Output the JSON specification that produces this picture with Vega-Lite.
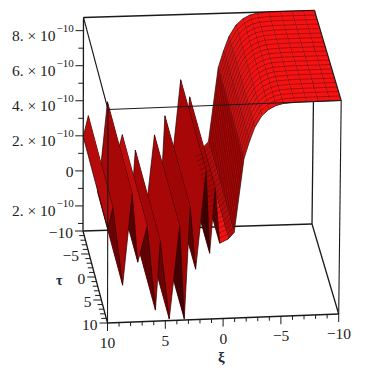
{
"$schema":"https://vega.github.io/schema/vega-lite/v6.json",
"width":365,"height":373,"padding":0,
"autosize":{"type":"fit","contains":"padding"},
"background":"white",
"config":{"view":{"stroke":null},"text":{"font":"Liberation Serif"}},
"datasets":{
"profile":[
{"xi":-10,"z":8.75},{"xi":-9,"z":8.75},{"xi":-8,"z":8.75},{"xi":-7,"z":8.75},{"xi":-6,"z":8.74},{"xi":-5,"z":8.7},{"xi":-4.4,"z":8.6},{"xi":-3.8,"z":8.4},{"xi":-3.2,"z":8.05},{"xi":-2.6,"z":7.4},{"xi":-2.15,"z":6.6},{"xi":-1.7,"z":5.65},{"xi":-0.9,"z":1.45},{"xi":-0.4,"z":1.1},{"xi":0.34,"z":0.87},{"xi":0.76,"z":4.04},{"xi":1.2,"z":0.32},{"xi":1.55,"z":5.03},{"xi":2.4,"z":-0.56},{"xi":2.9,"z":3.0},{"xi":3.36,"z":-3.37},{"xi":3.8,"z":1.93},{"xi":4.66,"z":-3.34},{"xi":5.46,"z":1.1},{"xi":5.86,"z":-2.8},{"xi":6.6,"z":2.0},{"xi":7.4,"z":-0.03},{"xi":7.9,"z":3.9},{"xi":8.7,"z":-1.31},{"xi":9.56,"z":3.14},{"xi":10,"z":1.95}
],
"edges":[
{"edge":"a","side":"back","xi":10,"tau":-10,"z":8.75},{"edge":"a","side":"back","xi":-10,"tau":-10,"z":8.75},
{"edge":"b","side":"back","xi":10,"tau":-10,"z":8.75},{"edge":"b","side":"back","xi":10,"tau":-10,"z":-3.43},
{"edge":"c","side":"back","xi":-10,"tau":-10,"z":8.75},{"edge":"c","side":"back","xi":-10,"tau":-10,"z":-3.43},
{"edge":"d","side":"back","xi":10,"tau":-10,"z":-3.43},{"edge":"d","side":"back","xi":-10,"tau":-10,"z":-3.43},
{"edge":"e","side":"back","xi":10,"tau":-10,"z":-3.43},{"edge":"e","side":"back","xi":10,"tau":10,"z":-3.43},
{"edge":"f","side":"back","xi":-10,"tau":-10,"z":-3.43},{"edge":"f","side":"back","xi":-10,"tau":10,"z":-3.43},
{"edge":"g","side":"back","xi":10,"tau":10,"z":-3.43},{"edge":"g","side":"back","xi":-10,"tau":10,"z":-3.43},
{"edge":"h","side":"front","xi":10,"tau":10,"z":8.75},{"edge":"h","side":"front","xi":-10,"tau":10,"z":8.75},
{"edge":"i","side":"front","xi":10,"tau":-10,"z":8.75},{"edge":"i","side":"front","xi":10,"tau":10,"z":8.75},
{"edge":"j","side":"front","xi":-10,"tau":-10,"z":8.75},{"edge":"j","side":"front","xi":-10,"tau":10,"z":8.75},
{"edge":"k","side":"front","xi":10,"tau":10,"z":8.75},{"edge":"k","side":"front","xi":10,"tau":10,"z":-3.43},
{"edge":"l","side":"front","xi":-10,"tau":10,"z":8.75},{"edge":"l","side":"front","xi":-10,"tau":10,"z":-3.43}
],
"ticks":[
{"axis":"z","v":-3,"major":false},{"axis":"z","v":-2,"major":true},{"axis":"z","v":-1,"major":false},{"axis":"z","v":0,"major":true},{"axis":"z","v":1,"major":false},{"axis":"z","v":2,"major":true},{"axis":"z","v":3,"major":false},{"axis":"z","v":4,"major":true},{"axis":"z","v":5,"major":false},{"axis":"z","v":6,"major":true},{"axis":"z","v":7,"major":false},{"axis":"z","v":8,"major":true},
{"axis":"tau","v":-10,"major":true},{"axis":"tau","v":-9,"major":false},{"axis":"tau","v":-8,"major":false},{"axis":"tau","v":-7,"major":false},{"axis":"tau","v":-6,"major":false},{"axis":"tau","v":-5,"major":true},{"axis":"tau","v":-4,"major":false},{"axis":"tau","v":-3,"major":false},{"axis":"tau","v":-2,"major":false},{"axis":"tau","v":-1,"major":false},{"axis":"tau","v":0,"major":true},{"axis":"tau","v":1,"major":false},{"axis":"tau","v":2,"major":false},{"axis":"tau","v":3,"major":false},{"axis":"tau","v":4,"major":false},{"axis":"tau","v":5,"major":true},{"axis":"tau","v":6,"major":false},{"axis":"tau","v":7,"major":false},{"axis":"tau","v":8,"major":false},{"axis":"tau","v":9,"major":false},{"axis":"tau","v":10,"major":true},
{"axis":"xi","v":-10,"major":true},{"axis":"xi","v":-9,"major":false},{"axis":"xi","v":-8,"major":false},{"axis":"xi","v":-7,"major":false},{"axis":"xi","v":-6,"major":false},{"axis":"xi","v":-5,"major":true},{"axis":"xi","v":-4,"major":false},{"axis":"xi","v":-3,"major":false},{"axis":"xi","v":-2,"major":false},{"axis":"xi","v":-1,"major":false},{"axis":"xi","v":0,"major":true},{"axis":"xi","v":1,"major":false},{"axis":"xi","v":2,"major":false},{"axis":"xi","v":3,"major":false},{"axis":"xi","v":4,"major":false},{"axis":"xi","v":5,"major":true},{"axis":"xi","v":6,"major":false},{"axis":"xi","v":7,"major":false},{"axis":"xi","v":8,"major":false},{"axis":"xi","v":9,"major":false},{"axis":"xi","v":10,"major":true}
],
"zlabels":[{"z":8,"main":"8. × 10","sup":"−10"},{"z":6,"main":"6. × 10","sup":"−10"},{"z":4,"main":"4. × 10","sup":"−10"},{"z":2,"main":"2. × 10","sup":"−10"},{"z":-2,"main":"2. × 10","sup":"−10"}],
"taulabels":[{"tau":-10,"label":"−10"},{"tau":-5,"label":"−5"},{"tau":0,"label":"0"},{"tau":5,"label":"5"},{"tau":10,"label":"10"}],
"xilabels":[{"xi":10,"label":"10"},{"xi":5,"label":"5"},{"xi":0,"label":"0"},{"xi":-5,"label":"−5"},{"xi":-10,"label":"−10"}]
},
"layer":[
{"data":{"name":"edges"},
"transform":[{"filter":"datum.side=='back'"},
{"calculate":"(10-datum.xi)/20","as":"u"},{"calculate":"(datum.tau+10)/20","as":"v"},{"calculate":"(datum.z+3.43)/12.18","as":"w"},
{"calculate":"83+229*datum.u+24.5*datum.v+2.2*datum.u*datum.v+datum.w*(0.5+2*datum.u)","as":"sx"},
{"calculate":"231-7*datum.u+92*datum.v-2*datum.u*datum.v-213.5*datum.w","as":"sy"}],
"mark":{"type":"line","stroke":"#1a1a1a","strokeWidth":1.3},
"encoding":{"x":{"field":"sx","type":"quantitative","scale":{"domain":[0,365],"nice":false,"zero":false},"axis":null},"y":{"field":"sy","type":"quantitative","scale":{"domain":[373,0],"nice":false,"zero":false},"axis":null},"detail":{"field":"edge"},"order":{"field":"z"}}},
{"data":{"name":"profile"},
"transform":[
{"window":[{"op":"lead","field":"xi","as":"xn"},{"op":"lead","field":"z","as":"zn"}],"sort":[{"field":"xi","order":"ascending"}]},
{"filter":"isValid(datum.xn)"},
{"calculate":"(datum.zn-datum.z)/(datum.xn-datum.xi)","as":"grad"},
{"calculate":"[0,1,2,3]","as":"c"},{"flatten":["c"]},
{"calculate":"(datum.c==0||datum.c==3)?datum.xi:datum.xn","as":"cx"},
{"calculate":"(datum.c==0||datum.c==3)?datum.z:datum.zn","as":"cz"},
{"calculate":"datum.c<2?-10:10","as":"ct"},
{"calculate":"(10-datum.cx)/20","as":"u"},{"calculate":"(datum.ct+10)/20","as":"v"},{"calculate":"(datum.cz+3.43)/12.18","as":"w"},
{"calculate":"83+229*datum.u+24.5*datum.v+2.2*datum.u*datum.v+datum.w*(0.5+2*datum.u)","as":"sx"},
{"calculate":"231-7*datum.u+92*datum.v-2*datum.u*datum.v-213.5*datum.w","as":"sy"}],
"mark":{"type":"line","stroke":"#2a0000","strokeWidth":0.7,"strokeJoin":"round"},
"encoding":{"x":{"field":"sx","type":"quantitative","axis":null},"y":{"field":"sy","type":"quantitative","axis":null},"detail":{"field":"xi"},"order":{"field":"c"},
"fill":{"field":"grad","type":"quantitative","legend":null,"scale":{"domain":[-12,-3,-1.9,-0.9,-0.76,-0.7,-0.64,0,3,7,14],"range":["#a00606","#ab0707","#cf1414","#e81515","#e81515","#b00c0c","#f01212","#f51212","#850404","#5a0202","#3c0000"]}}}},
{"data":{"name":"profile"},
"transform":[{"filter":"datum.xi<=0.34"},
{"calculate":"[-9,-8,-7,-6,-5,-4,-3,-2,-1,0,1,2,3,4,5,6,7,8,9]","as":"tau"},{"flatten":["tau"]},
{"calculate":"(10-datum.xi)/20","as":"u"},{"calculate":"(datum.tau+10)/20","as":"v"},{"calculate":"(datum.z+3.43)/12.18","as":"w"},
{"calculate":"83+229*datum.u+24.5*datum.v+2.2*datum.u*datum.v+datum.w*(0.5+2*datum.u)","as":"sx"},
{"calculate":"231-7*datum.u+92*datum.v-2*datum.u*datum.v-213.5*datum.w","as":"sy"}],
"mark":{"type":"line","stroke":"#300000","strokeWidth":0.6,"strokeOpacity":0.6},
"encoding":{"x":{"field":"sx","type":"quantitative","axis":null},"y":{"field":"sy","type":"quantitative","axis":null},"detail":{"field":"tau"},"order":{"field":"xi"}}},
{"data":{"name":"edges"},
"transform":[{"filter":"datum.side=='front'"},
{"calculate":"(10-datum.xi)/20","as":"u"},{"calculate":"(datum.tau+10)/20","as":"v"},{"calculate":"(datum.z+3.43)/12.18","as":"w"},
{"calculate":"83+229*datum.u+24.5*datum.v+2.2*datum.u*datum.v+datum.w*(0.5+2*datum.u)","as":"sx"},
{"calculate":"231-7*datum.u+92*datum.v-2*datum.u*datum.v-213.5*datum.w","as":"sy"}],
"mark":{"type":"line","stroke":"#1a1a1a","strokeWidth":1.1},
"encoding":{"x":{"field":"sx","type":"quantitative","axis":null},"y":{"field":"sy","type":"quantitative","axis":null},"detail":{"field":"edge"},"order":{"field":"z"}}},
{"data":{"name":"ticks"},
"transform":[
{"calculate":"datum.axis=='xi'?datum.v:10","as":"xi"},
{"calculate":"datum.axis=='tau'?datum.v:(datum.axis=='xi'?10:-10)","as":"tau"},
{"calculate":"datum.axis=='z'?datum.v:-3.43","as":"z"},
{"calculate":"(10-datum.xi)/20","as":"u"},{"calculate":"(datum.tau+10)/20","as":"v2"},{"calculate":"(datum.z+3.43)/12.18","as":"w"},
{"calculate":"83+229*datum.u+24.5*datum.v2+2.2*datum.u*datum.v2+datum.w*(0.5+2*datum.u)","as":"sx"},
{"calculate":"231-7*datum.u+92*datum.v2-2*datum.u*datum.v2-213.5*datum.w","as":"sy"},
{"calculate":"datum.axis=='xi'?datum.sx:datum.sx-(datum.major?8:5)","as":"ex"},
{"calculate":"datum.axis=='xi'?datum.sy+(datum.major?8:4):datum.sy","as":"ey"}],
"mark":{"type":"rule","stroke":"#1a1a1a","strokeWidth":1},
"encoding":{"x":{"field":"sx","type":"quantitative","axis":null},"y":{"field":"sy","type":"quantitative","axis":null},"x2":{"field":"ex"},"y2":{"field":"ey"}}},
{"data":{"name":"zlabels"},
"transform":[{"calculate":"83.5","as":"ax"},{"calculate":"171-17.5*datum.z","as":"sy"}],
"mark":{"type":"text","font":"Liberation Serif","align":"right","baseline":"middle","fontSize":15.5,"fill":"#222222","dx":-28,"dy":4.5},
"encoding":{"x":{"field":"ax","type":"quantitative","axis":null},"y":{"field":"sy","type":"quantitative","axis":null},"text":{"field":"main"}}},
{"data":{"name":"zlabels"},
"transform":[{"calculate":"83.5","as":"ax"},{"calculate":"171-17.5*datum.z","as":"sy"}],
"mark":{"type":"text","font":"Liberation Serif","align":"left","baseline":"middle","fontSize":11,"fill":"#222222","dx":-27,"dy":-2.5},
"encoding":{"x":{"field":"ax","type":"quantitative","axis":null},"y":{"field":"sy","type":"quantitative","axis":null},"text":{"field":"sup"}}},
{"data":{"values":[{"z":0,"label":"0"}]},
"transform":[{"calculate":"83.5","as":"ax"},{"calculate":"171-17.5*datum.z","as":"sy"}],
"mark":{"type":"text","font":"Liberation Serif","align":"right","baseline":"middle","fontSize":15.5,"fill":"#222222","dx":-10,"dy":1},
"encoding":{"x":{"field":"ax","type":"quantitative","axis":null},"y":{"field":"sy","type":"quantitative","axis":null},"text":{"field":"label"}}},
{"data":{"name":"taulabels"},
"transform":[{"calculate":"83+24.5*(datum.tau+10)/20","as":"sx"},{"calculate":"231+92*(datum.tau+10)/20","as":"sy"}],
"mark":{"type":"text","font":"Liberation Serif","align":"right","baseline":"middle","fontSize":15.5,"fill":"#222222","dx":-10,"dy":2},
"encoding":{"x":{"field":"sx","type":"quantitative","axis":null},"y":{"field":"sy","type":"quantitative","axis":null},"text":{"field":"label"}}},
{"data":{"name":"xilabels"},
"transform":[{"calculate":"107.5+231.5*(10-datum.xi)/20","as":"sx"},{"calculate":"323-9*(10-datum.xi)/20","as":"sy"}],
"mark":{"type":"text","font":"Liberation Serif","align":"center","baseline":"middle","fontSize":15.5,"fill":"#222222","dy":20},
"encoding":{"x":{"field":"sx","type":"quantitative","axis":null},"y":{"field":"sy","type":"quantitative","axis":null},"text":{"field":"label"}}},
{"data":{"values":[{"xi":0,"label":"ξ"}]},
"transform":[{"calculate":"107.5+231.5*(10-datum.xi)/20","as":"sx"},{"calculate":"323-9*(10-datum.xi)/20","as":"sy"}],
"mark":{"type":"text","font":"Liberation Serif","align":"center","baseline":"middle","fontSize":15,"fontWeight":"bold","fill":"#1a2a44","dy":38,"dx":-2},
"encoding":{"x":{"field":"sx","type":"quantitative","axis":null},"y":{"field":"sy","type":"quantitative","axis":null},"text":{"field":"label"}}},
{"data":{"values":[{"tau":0,"label":"τ"}]},
"transform":[{"calculate":"83+24.5*(datum.tau+10)/20","as":"sx"},{"calculate":"231+92*(datum.tau+10)/20","as":"sy"}],
"mark":{"type":"text","font":"Liberation Serif","align":"center","baseline":"middle","fontSize":14,"fontWeight":"bold","fill":"#1a2a44","dx":-36,"dy":4},
"encoding":{"x":{"field":"sx","type":"quantitative","axis":null},"y":{"field":"sy","type":"quantitative","axis":null},"text":{"field":"label"}}}
]
}
